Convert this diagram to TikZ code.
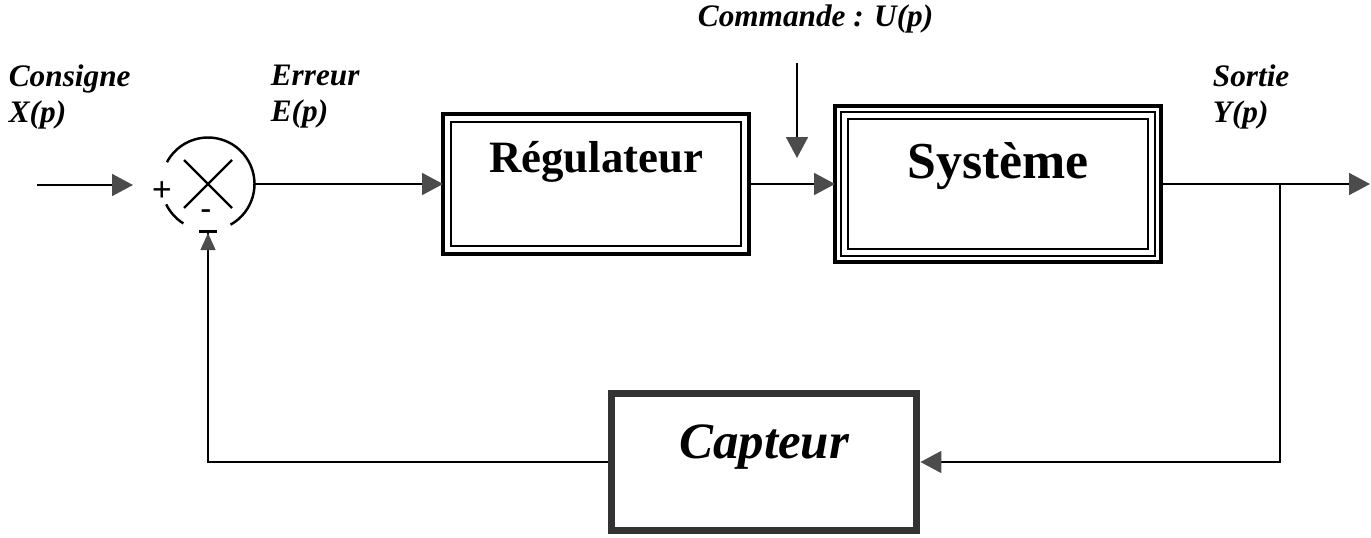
\documentclass[tikz,border=0pt]{standalone}
\usepackage{fontspec}
\setmainfont{Liberation Serif}
\usetikzlibrary{arrows.meta,positioning}
\begin{document}
\begin{tikzpicture}[
        x = 0.02cm, y = -0.02cm,
        line width = 1pt,
        lbl/.style = {font=\fontsize{17.8}{20.5}\selectfont\bfseries\itshape, align=left, inner sep=0pt, anchor=west},
        blk/.style = {rectangle, inner sep=0pt, outer sep=0pt},
        fleche/.style = {-{Triangle[length=0.42cm,width=0.44cm,color=black!70]}},
        retour/.style = {-{Triangle[length=0.34cm,width=0.3cm,color=black!70,sep=0pt] Bar[width=0.36cm,line width=1.5pt]}},
      ]
        \useasboundingbox (0,0) rectangle (1371,537);
        % blocs
        \node[circle, inner sep=0pt, outer sep=0pt, minimum size=1.86cm] (sum) at (208,184) {};
        \node[blk, minimum width=6.12cm, minimum height=2.8cm, text height=0.6cm, text depth=1.08cm,
              font=\fontsize{25.5}{30}\selectfont\bfseries] (reg) at (596,184) {Régulateur};
        \node[blk, minimum width=6.52cm, minimum height=3.12cm, text height=0.7cm, text depth=0.94cm,
              font=\fontsize{29.5}{36}\selectfont\bfseries] (sys) at (998,184) {Système};
        \node[draw=black!80, line width=4.5pt, inner sep=0pt, minimum width=6.1cm, minimum height=2.74cm,
              text height=0.68cm, text depth=0.82cm, font=\fontsize{29}{34}\selectfont\bfseries\itshape]
              (capt) at (764,462) {Capteur};
        % cadres
        \draw[line width=2pt] (reg.north west) rectangle (reg.south east);
        \draw ([shift={(8,8)}]reg.north west) rectangle ([shift={(-8,-8)}]reg.south east);
        \draw[line width=2pt] (sys.north west) rectangle (sys.south east);
        \draw[line width=1.5pt] ([shift={(6,6)}]sys.north west) rectangle ([shift={(-6,-6)}]sys.south east);
        \draw ([shift={(13,13)}]sys.north west) rectangle ([shift={(-13,-13)}]sys.south east);
        % comparateur
        \draw[line width=1.4pt] (sum.-61) arc[start angle=-61, end angle=152, radius=0.93cm];
        \draw[line width=1.4pt] (sum.206) arc[start angle=206, end angle=238, radius=0.93cm];
        \draw[line width=1.4pt] (sum.center) ++(-24,-24) -- ++(48,48) (sum.center) ++(24,-24) -- ++(-48,48);
        \node[font=\fontsize{20}{20}\selectfont\bfseries] (plus) at (162,192) {+};
        \node[font=\fontsize{18}{18}\selectfont\bfseries] (moins) at (206,214) {-};
        % textes
        \node[lbl] (consigne) at (8,97) {Consigne\\X(p)};
        \node[lbl] (erreur) at (270,97) {Erreur\\E(p)};
        \node[lbl] (sortie) at (1212,97) {Sortie\\Y(p)};
        \node[lbl] (commande) at (697,19) {Commande : U(p)};
        % liaisons
        \coordinate (in) at (37,185);
        \coordinate (inend) at (133,185);
        \coordinate (u) at (797,63);
        \coordinate (uend) at (797,158);
        \coordinate (out) at (1370,184);
        \coordinate (br) at (1280,184);
        \draw[fleche] (in) -- (inend);
        \draw[fleche] (sum.east) -- (reg.west);
        \draw[fleche] (reg.east) -- (sys.west);
        \draw[fleche] (u) -- (uend);
        \draw[fleche] (sys.east) -- (out);
        \draw[fleche] (br) |- (capt.east);
        \draw[retour] (capt.west) -| (sum.south);
      \end{tikzpicture}
\end{document}
